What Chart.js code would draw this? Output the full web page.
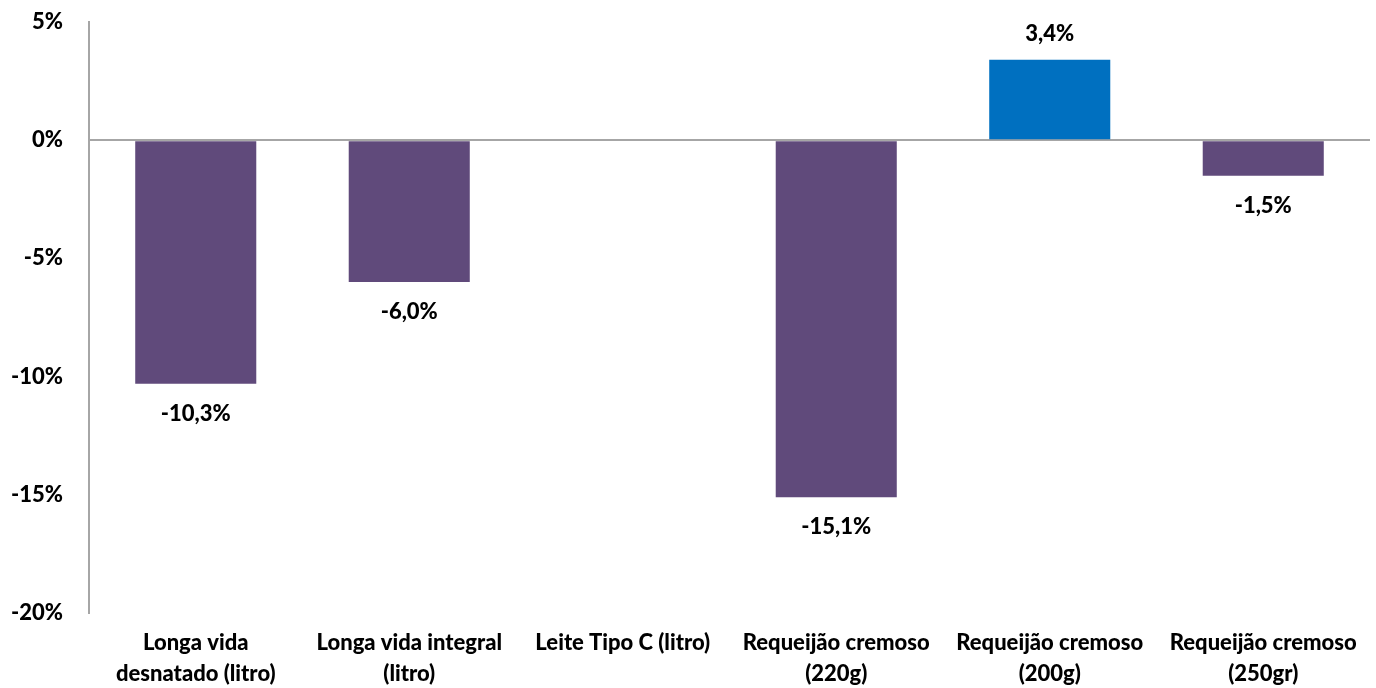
<!DOCTYPE html>
<html lang="pt">
<head>
  <meta charset="UTF-8" />
  <title>Variação de preços - lácteos</title>
  <script src="https://cdn.jsdelivr.net/npm/chart.js"></script>
  <style>
    html,body { margin:0; padding:0; background:#fff; }
    #box      { width:1376px; height:688px; }
  </style>
</head>
<body>
<div id="box"><canvas id="chart"></canvas></div>

<script>
  /* ---------- data ---------- */
  const categories = [
    ['Longa vida', 'desnatado (litro)'],
    ['Longa vida integral', '(litro)'],
    'Leite Tipo C (litro)',
    ['Requeijão cremoso', '(220g)'],
    ['Requeijão cremoso', '(200g)'],
    ['Requeijão cremoso', '(250gr)']
  ];
  const variation = [-10.3, -6.0, null, -15.1, 3.4, -1.5];
  const yTicks    = [5, 0, -5, -10, -15, -20];

  const PURPLE = '#604A7B', BLUE = '#0070C0', AXIS = '#A6A6A6';
  const FONT   = 'Lato, "Liberation Sans", sans-serif';
  const WEIGHT = 900;

  const fmt = v => (v < 0 ? '-' : '') + Math.abs(v).toFixed(1).replace('.', ',') + '%';

  /* value labels above / below each bar */
  const valueLabels = {
    id: 'valueLabels',
    afterDatasetsDraw(chart) {
      const ctx = chart.ctx;
      const meta = chart.getDatasetMeta(0);
      ctx.save();
      ctx.font = WEIGHT + ' 22px ' + FONT;
      ctx.fillStyle = '#000';
      ctx.textAlign = 'center';
      ctx.textBaseline = 'middle';
      meta.data.forEach((bar, i) => {
        const v = variation[i];
        if (v === null) return;
        const y = v >= 0 ? bar.y - 26 : bar.y + 30;
        ctx.fillText(fmt(v), bar.x, y);
      });
      ctx.restore();
    }
  };

  new Chart(document.getElementById('chart'), {
    type: 'bar',
    data: {
      labels: categories,
      datasets: [{
        data: variation,
        backgroundColor: variation.map(v => v >= 0 ? BLUE : PURPLE),
        borderWidth: 0,
        categoryPercentage: 1,
        barPercentage: 0.567
      }]
    },
    options: {
      responsive: true,
      maintainAspectRatio: false,
      animation: false,
      layout: { padding: { top: 22, right: 6, left: 0, bottom: 0 } },
      plugins: { legend: { display: false }, tooltip: { enabled: false } },
      scales: {
        x: {
          grid: { display: false, drawTicks: false },
          border: { display: false },
          ticks: {
            color: '#000',
            font: { family: FONT, size: 22, weight: WEIGHT, lineHeight: 1.4 },
            padding: 15,
            maxRotation: 0,
            autoSkip: false
          },
          afterFit: s => { s.height = 75; s.paddingLeft = 0; s.paddingRight = 0; }
        },
        y: {
          min: -20, max: 5,
          afterBuildTicks: s => { s.ticks = yTicks.map(v => ({ value: v })); },
          grid: {
            drawTicks: false,
            color: c => c.tick && c.tick.value === 0 ? AXIS : 'transparent',
            lineWidth: 2
          },
          border: { display: true, color: AXIS, width: 2 },
          ticks: {
            color: '#000',
            font: { family: FONT, size: 22, weight: WEIGHT },
            padding: 26,
            callback: v => v + '%'
          },
          afterFit: s => { s.width = 89; s.paddingTop = 0; s.paddingBottom = 0; }
        }
      }
    },
    plugins: [valueLabels]
  });
</script>
</body>
</html>
